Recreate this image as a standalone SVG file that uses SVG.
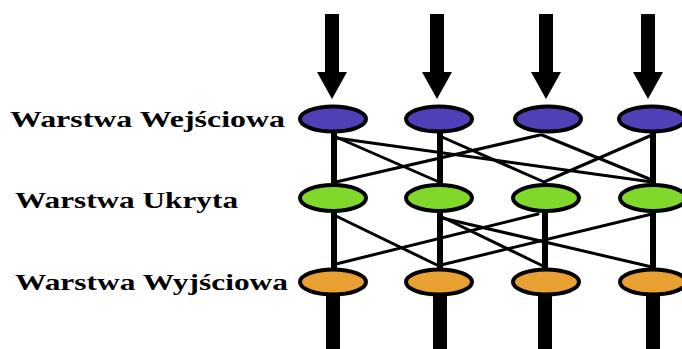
<svg xmlns="http://www.w3.org/2000/svg" width="682" height="349" viewBox="0 0 682 349">
  <style>
    .lbl { font-family: "Liberation Serif", "Times New Roman", serif; font-weight: bold; font-size: 22.5px; fill: #000; }
    .vert { stroke: #000; stroke-width: 6; fill: none; }
    .diag { stroke: #000; stroke-width: 3; fill: none; stroke-linecap: round; }
    .out { stroke: #000; stroke-width: 14; fill: none; }
    .shaft { stroke: #000; stroke-width: 14; fill: none; }
    .in { fill: #5040B8; stroke: #000; stroke-width: 4; }
    .hid { fill: #80D82A; stroke: #000; stroke-width: 4; }
    .op { fill: #E9A033; stroke: #000; stroke-width: 4; }
  </style>
  <rect width="682" height="349" fill="#fff"/>

  <g id="labels">
    <text class="lbl" x="10" y="127" textLength="275" lengthAdjust="spacingAndGlyphs">Warstwa Wejściowa</text>
    <text class="lbl" x="15" y="208" textLength="223" lengthAdjust="spacingAndGlyphs">Warstwa Ukryta</text>
    <text class="lbl" x="15" y="290" textLength="273" lengthAdjust="spacingAndGlyphs">Warstwa Wyjściowa</text>
  </g>

  <g id="connectors">
    <!-- input arrows -->
    <g id="input-arrows">
      <line class="shaft" x1="332" y1="14" x2="332" y2="74"/>
      <polygon points="317,72 347,72 332,99"/>
      <line class="shaft" x1="437" y1="14" x2="437" y2="74"/>
      <polygon points="422,72 452,72 437,99"/>
      <line class="shaft" x1="546" y1="14" x2="546" y2="74"/>
      <polygon points="531,72 561,72 546,99"/>
      <line class="shaft" x1="648" y1="14" x2="648" y2="74"/>
      <polygon points="633,72 663,72 648,99"/>
    </g>
    <!-- input to hidden -->
    <line class="vert" x1="334" y1="132" x2="334" y2="185"/>
    <line class="vert" x1="440" y1="132" x2="440" y2="185"/>
    <line class="vert" x1="653" y1="132" x2="653" y2="185"/>
    <line class="diag" x1="336" y1="137" x2="439" y2="182"/>
    <line class="diag" x1="336" y1="138" x2="652" y2="182"/>
    <line class="diag" x1="336" y1="182" x2="540" y2="135"/>
    <line class="diag" x1="442" y1="137" x2="544" y2="182"/>
    <line class="diag" x1="542" y1="135" x2="652" y2="180"/>
    <line class="diag" x1="652" y1="135" x2="544" y2="182"/>
    <!-- hidden to output -->
    <line class="vert" x1="334" y1="212" x2="334" y2="269"/>
    <line class="vert" x1="440" y1="212" x2="440" y2="269"/>
    <line class="vert" x1="545" y1="212" x2="545" y2="269"/>
    <line class="vert" x1="653" y1="212" x2="653" y2="269"/>
    <line class="diag" x1="336" y1="216" x2="439" y2="266"/>
    <line class="diag" x1="336" y1="264" x2="538" y2="214"/>
    <line class="diag" x1="442" y1="217" x2="543" y2="266"/>
    <line class="diag" x1="442" y1="218" x2="652" y2="267"/>
    <line class="diag" x1="652" y1="214" x2="441" y2="265"/>
    <!-- outputs -->
    <line class="out" x1="333" y1="290" x2="333" y2="349"/>
    <line class="out" x1="440" y1="290" x2="440" y2="349"/>
    <line class="out" x1="545" y1="290" x2="545" y2="349"/>
    <line class="out" x1="653" y1="290" x2="653" y2="349"/>
  </g>

  <g id="input-layer">
    <ellipse id="in1" class="in" cx="333" cy="119" rx="33" ry="12.5"/>
    <ellipse id="in2" class="in" cx="439" cy="119" rx="33" ry="12.5"/>
    <ellipse id="in3" class="in" cx="548" cy="119" rx="33" ry="12.5"/>
    <ellipse id="in4" class="in" cx="652" cy="119" rx="33" ry="12.5"/>
  </g>
  <g id="hidden-layer">
    <ellipse id="h1" class="hid" cx="333" cy="198" rx="33" ry="13"/>
    <ellipse id="h2" class="hid" cx="439" cy="198" rx="33" ry="13"/>
    <ellipse id="h3" class="hid" cx="546" cy="198" rx="33" ry="13"/>
    <ellipse id="h4" class="hid" cx="653" cy="198" rx="33" ry="13"/>
  </g>
  <g id="output-layer">
    <ellipse id="o1" class="op" cx="333" cy="282" rx="33" ry="12.5"/>
    <ellipse id="o2" class="op" cx="439" cy="282" rx="33" ry="12.5"/>
    <ellipse id="o3" class="op" cx="546" cy="282" rx="33" ry="12.5"/>
    <ellipse id="o4" class="op" cx="653" cy="282" rx="33" ry="12.5"/>
  </g>
</svg>
